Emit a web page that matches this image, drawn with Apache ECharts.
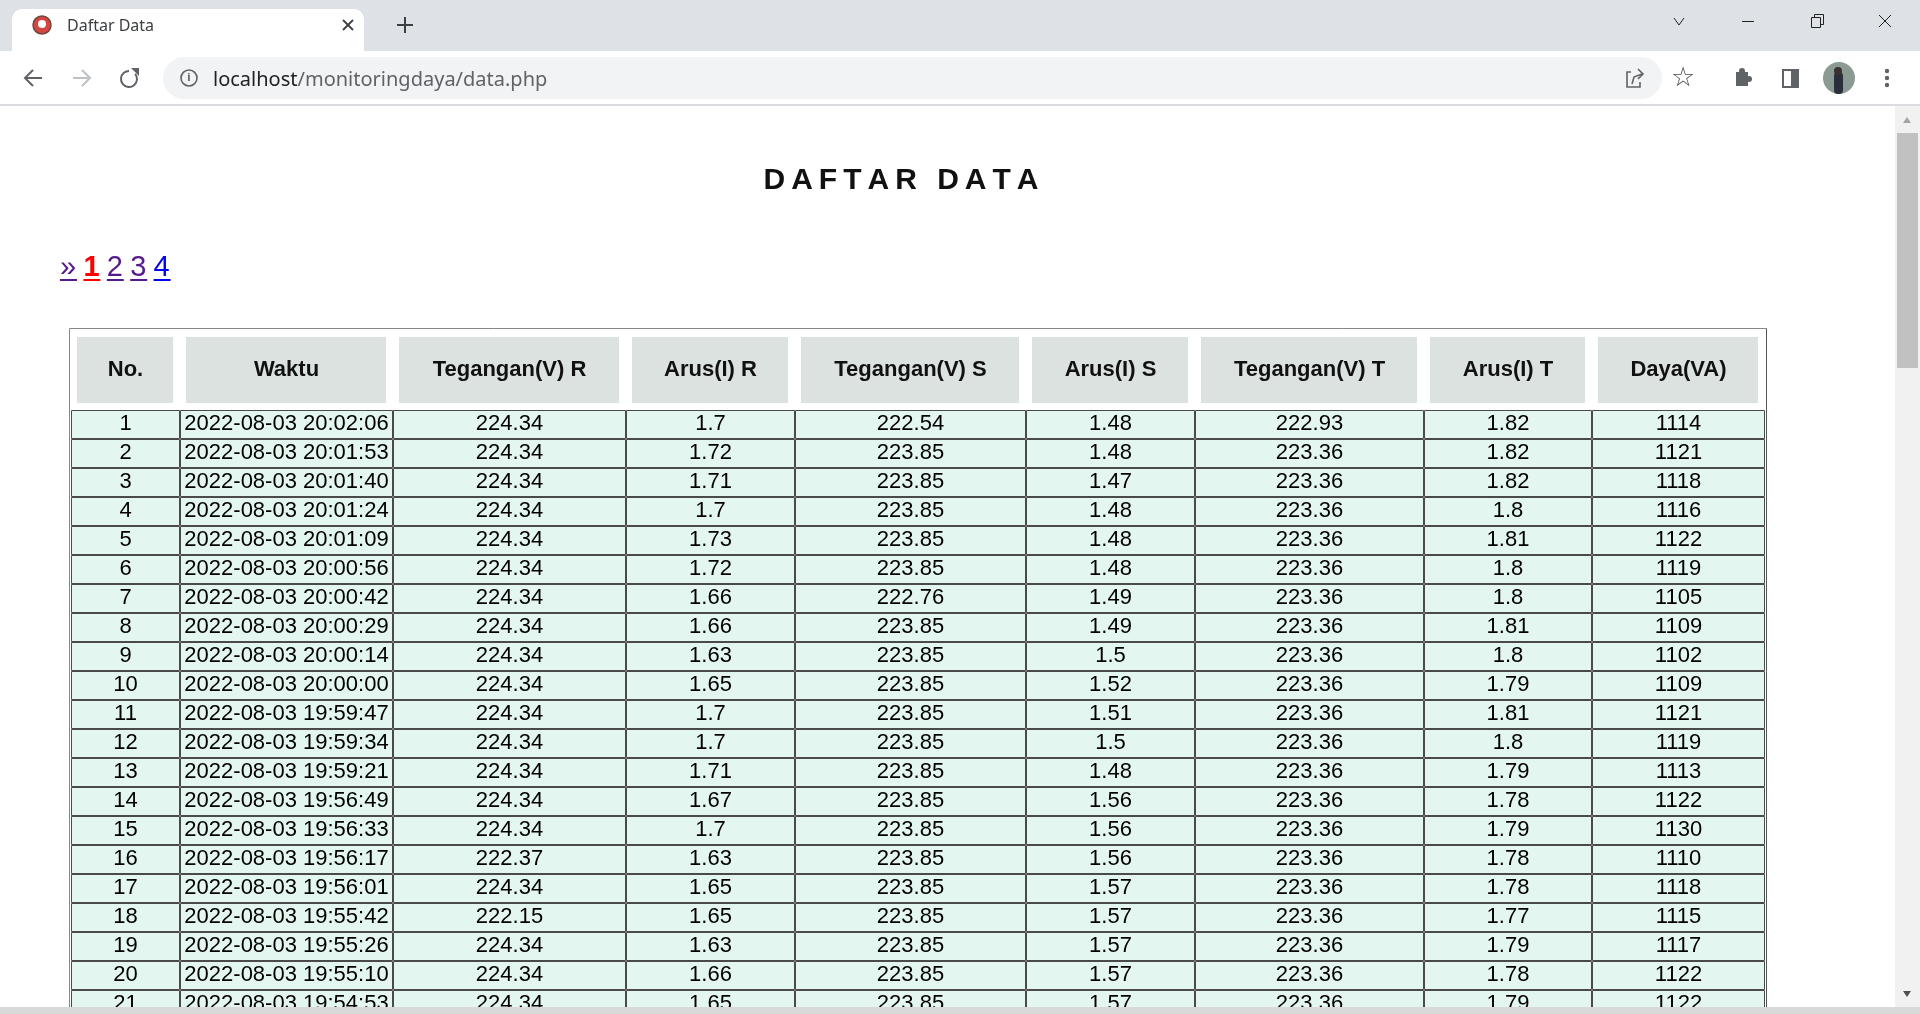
<!DOCTYPE html>
<html lang="id" style="height: 100%">
<head>
    <meta charset="UTF-8">
    <title>Daftar Data</title>
    <script src="https://cdn.jsdelivr.net/npm/echarts@6/dist/echarts.min.js"></script>
</head>
<body style="height: 100%; margin: 0">
<div id="main" style="width: 1920px; height: 1014px"></div>
<script>
    // isi tabel halaman 1
    var headers = ['No.', 'Waktu', 'Tegangan(V) R', 'Arus(I) R', 'Tegangan(V) S', 'Arus(I) S', 'Tegangan(V) T', 'Arus(I) T', 'Daya(VA)'];
    var nomor = [1, 2, 3, 4, 5, 6, 7, 8, 9, 10, 11, 12, 13, 14, 15, 16, 17, 18, 19, 20, 21];
    var waktu = ['2022-08-03 20:02:06', '2022-08-03 20:01:53', '2022-08-03 20:01:40', '2022-08-03 20:01:24',
        '2022-08-03 20:01:09', '2022-08-03 20:00:56', '2022-08-03 20:00:42', '2022-08-03 20:00:29',
        '2022-08-03 20:00:14', '2022-08-03 20:00:00', '2022-08-03 19:59:47', '2022-08-03 19:59:34',
        '2022-08-03 19:59:21', '2022-08-03 19:56:49', '2022-08-03 19:56:33', '2022-08-03 19:56:17',
        '2022-08-03 19:56:01', '2022-08-03 19:55:42', '2022-08-03 19:55:26', '2022-08-03 19:55:10',
        '2022-08-03 19:54:53'];
    var teganganR = [224.34, 224.34, 224.34, 224.34, 224.34, 224.34, 224.34, 224.34, 224.34, 224.34, 224.34,
        224.34, 224.34, 224.34, 224.34, 222.37, 224.34, 222.15, 224.34, 224.34, 224.34];
    var arusR = [1.7, 1.72, 1.71, 1.7, 1.73, 1.72, 1.66, 1.66, 1.63, 1.65, 1.7, 1.7, 1.71, 1.67, 1.7, 1.63,
        1.65, 1.65, 1.63, 1.66, 1.65];
    var teganganS = [222.54, 223.85, 223.85, 223.85, 223.85, 223.85, 222.76, 223.85, 223.85, 223.85, 223.85,
        223.85, 223.85, 223.85, 223.85, 223.85, 223.85, 223.85, 223.85, 223.85, 223.85];
    var arusS = [1.48, 1.48, 1.47, 1.48, 1.48, 1.48, 1.49, 1.49, 1.5, 1.52, 1.51, 1.5, 1.48, 1.56, 1.56, 1.56,
        1.57, 1.57, 1.57, 1.57, 1.57];
    var teganganT = [222.93, 223.36, 223.36, 223.36, 223.36, 223.36, 223.36, 223.36, 223.36, 223.36, 223.36,
        223.36, 223.36, 223.36, 223.36, 223.36, 223.36, 223.36, 223.36, 223.36, 223.36];
    var arusT = [1.82, 1.82, 1.82, 1.8, 1.81, 1.8, 1.8, 1.81, 1.8, 1.79, 1.81, 1.8, 1.79, 1.78, 1.79, 1.78,
        1.78, 1.77, 1.79, 1.78, 1.79];
    var daya = [1114, 1121, 1118, 1116, 1122, 1119, 1105, 1109, 1102, 1109, 1121, 1119, 1113, 1122, 1130, 1110,
        1118, 1115, 1117, 1122, 1122];
    var halaman = ['»', '1', '2', '3', '4'];

    // lebar kolom (layout)
    var colWidths = [109, 213, 233, 169, 231, 169, 229, 168, 173];
    var colEdges = [0];
    colWidths.forEach(function (w) { colEdges.push(colEdges[colEdges.length - 1] + w); });
    var totalW = colEdges[colEdges.length - 1];
    var rowH = 29;
    var fullRows = 20; // baris yang utuh terlihat, baris ke-21 terpotong layar

    var columns = [nomor, waktu, teganganR, arusR, teganganS, arusS, teganganT, arusT, daya];
    var bodyData = [];
    for (var r = 0; r < nomor.length; r++) {
        for (var c = 0; c < columns.length; c++) {
            bodyData.push([c, r, String(columns[c][r])]);
        }
    }
    var headData = headers.map(function (h, i) { return [i, 0, h]; });

    var FONT = '"Liberation Sans", Arial, sans-serif';
    var UI = '"Noto Sans", "Open Sans", sans-serif';
    var ICON = '#5f6368';

    function chrome() {
        var g = [];
        // tab strip
        g.push({type: 'rect', shape: {x: 0, y: 0, width: 1920, height: 51}, style: {fill: '#dee1e6'}});
        g.push({type: 'rect', shape: {x: 12, y: 9, width: 352, height: 44, r: [10, 10, 0, 0]}, style: {fill: '#fff'}});
        g.push({type: 'circle', shape: {cx: 42, cy: 25, r: 9}, style: {fill: '#d64541', stroke: '#6b4b3e', lineWidth: 1.5}});
        g.push({type: 'circle', shape: {cx: 42, cy: 24, r: 4}, style: {fill: '#fff'}});
        g.push({type: 'text', style: {text: 'Daftar Data', x: 67, y: 26, textVerticalAlign: 'middle', font: '16px ' + UI, fill: '#3c4043'}});
        g.push({type: 'line', shape: {x1: 343, y1: 20, x2: 353, y2: 30}, style: {stroke: '#3c4043', lineWidth: 1.8}});
        g.push({type: 'line', shape: {x1: 353, y1: 20, x2: 343, y2: 30}, style: {stroke: '#3c4043', lineWidth: 1.8}});
        g.push({type: 'line', shape: {x1: 397, y1: 25, x2: 413, y2: 25}, style: {stroke: '#3c4043', lineWidth: 2}});
        g.push({type: 'line', shape: {x1: 405, y1: 17, x2: 405, y2: 33}, style: {stroke: '#3c4043', lineWidth: 2}});
        // window controls
        g.push({type: 'polyline', shape: {points: [[1674, 18], [1679, 25], [1684, 18]]}, style: {stroke: '#222', lineWidth: 1, fill: null}});
        g.push({type: 'line', shape: {x1: 1742, y1: 21.5, x2: 1754, y2: 21.5}, style: {stroke: '#222', lineWidth: 1}});
        g.push({type: 'rect', shape: {x: 1811.5, y: 17.5, width: 9, height: 10}, style: {stroke: '#222', lineWidth: 1, fill: null}});
        g.push({type: 'polyline', shape: {points: [[1814.5, 17.5], [1814.5, 14.5], [1823.5, 14.5], [1823.5, 24.5], [1820.5, 24.5]]}, style: {stroke: '#222', lineWidth: 1, fill: null}});
        g.push({type: 'line', shape: {x1: 1879, y1: 15, x2: 1891, y2: 27}, style: {stroke: '#222', lineWidth: 1}});
        g.push({type: 'line', shape: {x1: 1891, y1: 15, x2: 1879, y2: 27}, style: {stroke: '#222', lineWidth: 1}});
        // toolbar
        g.push({type: 'rect', shape: {x: 0, y: 51, width: 1920, height: 53}, style: {fill: '#fff'}});
        g.push({type: 'rect', shape: {x: 0, y: 104, width: 1920, height: 2}, style: {fill: '#dadce0'}});
        g.push({type: 'polyline', shape: {points: [[33, 70], [25, 78], [33, 86]]}, style: {stroke: ICON, lineWidth: 2, fill: null}});
        g.push({type: 'line', shape: {x1: 25, y1: 78, x2: 42, y2: 78}, style: {stroke: ICON, lineWidth: 2}});
        g.push({type: 'polyline', shape: {points: [[82, 70], [90, 78], [82, 86]]}, style: {stroke: '#bdc1c6', lineWidth: 2, fill: null}});
        g.push({type: 'line', shape: {x1: 73, y1: 78, x2: 90, y2: 78}, style: {stroke: '#bdc1c6', lineWidth: 2}});
        g.push({type: 'arc', shape: {cx: 129, cy: 79, r: 8, startAngle: -Math.PI * 0.22, endAngle: -Math.PI * 0.5, clockwise: true}, style: {stroke: ICON, lineWidth: 2, fill: null}});
        g.push({type: 'polygon', shape: {points: [[131, 68], [139, 68], [139, 76]]}, style: {fill: ICON}});
        g.push({type: 'rect', shape: {x: 163, y: 57, width: 1499, height: 42, r: 21}, style: {fill: '#f1f3f4'}});
        g.push({type: 'circle', shape: {cx: 189, cy: 78, r: 8}, style: {stroke: ICON, lineWidth: 1.6, fill: null}});
        g.push({type: 'text', style: {text: 'i', x: 189, y: 78, textAlign: 'center', textVerticalAlign: 'middle', font: 'bold 11px ' + UI, fill: ICON}});
        g.push({type: 'text', style: {
            text: '{a|localhost}{b|/monitoringdaya/data.php}', x: 213, y: 80, textVerticalAlign: 'middle',
            font: '20px ' + UI,
            rich: {a: {fill: '#202124', font: '20px ' + UI}, b: {fill: '#5f6368', font: '20px ' + UI}}
        }});
        g.push({type: 'polyline', shape: {points: [[1640, 82], [1640, 87], [1627, 87], [1627, 72], [1631, 72]]}, style: {stroke: ICON, lineWidth: 1.6, fill: null}});
        g.push({type: 'polyline', shape: {points: [[1632, 84], [1634, 77], [1642, 74]]}, style: {stroke: ICON, lineWidth: 1.6, fill: null}});
        g.push({type: 'polyline', shape: {points: [[1638, 69], [1643, 74], [1638, 79]]}, style: {stroke: ICON, lineWidth: 1.6, fill: null}});
        g.push({type: 'text', style: {text: '☆', x: 1683, y: 79, textAlign: 'center', textVerticalAlign: 'middle', font: 'bold 27px "DejaVu Sans"', fill: '#4a4d52'}});
        g.push({type: 'rect', shape: {x: 1736, y: 72, width: 12, height: 14}, style: {fill: ICON}});
        g.push({type: 'circle', shape: {cx: 1742, cy: 71, r: 3}, style: {fill: ICON}});
        g.push({type: 'circle', shape: {cx: 1749, cy: 79, r: 3}, style: {fill: ICON}});
        g.push({type: 'rect', shape: {x: 1783, y: 70, width: 15, height: 17}, style: {stroke: ICON, lineWidth: 2, fill: null}});
        g.push({type: 'rect', shape: {x: 1791, y: 70, width: 7, height: 17}, style: {fill: ICON}});
        g.push({type: 'circle', shape: {cx: 1839, cy: 78, r: 16}, style: {fill: '#8c9a94'}});
        g.push({type: 'rect', shape: {x: 1834, y: 72, width: 9, height: 22, r: 4}, style: {fill: '#2b2f3a'}});
        g.push({type: 'circle', shape: {cx: 1838, cy: 71, r: 4}, style: {fill: '#3a3030'}});
        [71, 78, 85].forEach(function (y) {
            g.push({type: 'circle', shape: {cx: 1887, cy: y, r: 2.2}, style: {fill: ICON}});
        });
        // scrollbar
        g.push({type: 'rect', z: 100, shape: {x: 1895, y: 106, width: 25, height: 901}, style: {fill: '#f1f1f1'}});
        g.push({type: 'rect', z: 101, shape: {x: 1897, y: 133, width: 21, height: 235}, style: {fill: '#c1c1c1'}});
        g.push({type: 'polygon', z: 101, shape: {points: [[1903, 123], [1907, 117], [1911, 123]]}, style: {fill: '#a3a3a3'}});
        g.push({type: 'polygon', z: 101, shape: {points: [[1903, 991], [1907, 997], [1911, 991]]}, style: {fill: '#505050'}});
        g.push({type: 'rect', z: 102, shape: {x: 0, y: 1007, width: 1920, height: 7}, style: {fill: '#d9d9d9'}});
        // judul
        g.push({type: 'text', style: {
            text: 'D\u2009A\u2009F\u2009T\u2009A\u2009R\u2009 \u2009D\u2009A\u2009T\u2009A',
            x: 901, y: 181, textAlign: 'center', textVerticalAlign: 'middle',
            font: 'bold 30px ' + FONT, fill: '#111'
        }});
        // navigasi halaman
        var px = 60;
        var colors = ['#551a8b', '#ff0000', '#551a8b', '#551a8b', '#0000ee'];
        halaman.forEach(function (h, i) {
            var font = (h === '1' ? 'bold ' : '') + '29px ' + FONT;
            var cw = 16;
            g.push({type: 'text', style: {text: h, x: px, y: 282, textVerticalAlign: 'bottom', font: font, fill: colors[i]}});
            g.push({type: 'rect', shape: {x: px, y: 279, width: cw + 1, height: 2}, style: {fill: colors[i]}});
            px += cw + 7.4;
        });
        // bingkai tabel
        g.push({type: 'line', shape: {x1: 69.5, y1: 328.5, x2: 1766.5, y2: 328.5}, style: {stroke: '#888', lineWidth: 1}});
        g.push({type: 'line', shape: {x1: 69.5, y1: 328.5, x2: 69.5, y2: 1014}, style: {stroke: '#888', lineWidth: 1}});
        g.push({type: 'line', shape: {x1: 1766.5, y1: 328.5, x2: 1766.5, y2: 1014}, style: {stroke: '#555', lineWidth: 1}});
        return g;
    }

    var option = {
        backgroundColor: '#fff',
        animation: false,
        graphic: {elements: chrome()},
        grid: [
            {left: 71, top: 337, width: 1694, height: 66},
            {left: 71, top: 410, width: 1694, height: rowH * fullRows}
        ],
        xAxis: [
            {type: 'value', gridIndex: 0, min: 0, max: totalW, show: false},
            {type: 'value', gridIndex: 1, min: 0, max: totalW, show: false}
        ],
        yAxis: [
            {type: 'value', gridIndex: 0, min: 0, max: 1, inverse: true, show: false},
            {type: 'value', gridIndex: 1, min: 0, max: fullRows, inverse: true, show: false}
        ],
        series: [{
            type: 'custom',
            xAxisIndex: 0,
            yAxisIndex: 0,
            data: headData,
            renderItem: function (params, api) {
                var c = api.value(0);
                var p0 = api.coord([colEdges[c], 0]);
                var p1 = api.coord([colEdges[c + 1], 1]);
                return {
                    type: 'group',
                    children: [{
                        type: 'rect',
                        shape: {x: p0[0] + 6, y: p0[1], width: p1[0] - p0[0] - 13, height: p1[1] - p0[1]},
                        style: {fill: '#dbe2e0'}
                    }, {
                        type: 'text',
                        style: {
                            text: headers[c], x: (p0[0] + p1[0]) / 2, y: (p0[1] + p1[1]) / 2,
                            textAlign: 'center', textVerticalAlign: 'middle',
                            font: 'bold 22px ' + FONT, fill: '#111'
                        }
                    }]
                };
            }
        }, {
            type: 'custom',
            xAxisIndex: 1,
            yAxisIndex: 1,
            clip: false,
            data: bodyData,
            renderItem: function (params, api) {
                var c = api.value(0), r = api.value(1);
                var p0 = api.coord([colEdges[c], r]);
                var p1 = api.coord([colEdges[c + 1], r + 1]);
                var item = bodyData[params.dataIndex];
                return {
                    type: 'group',
                    children: [{
                        type: 'rect',
                        shape: {x: p0[0] + 0.5, y: p0[1] + 0.5, width: p1[0] - p0[0] - 1, height: p1[1] - p0[1] - 1},
                        style: {fill: '#e4f6f0', stroke: '#4a4a4a', lineWidth: 1}
                    }, {
                        type: 'text',
                        style: {
                            text: item[2], x: (p0[0] + p1[0]) / 2, y: (p0[1] + p1[1]) / 2 - 1,
                            textAlign: 'center', textVerticalAlign: 'middle',
                            font: '22px ' + FONT, fill: '#000'
                        }
                    }]
                };
            }
        }]
    };

    var myChart = echarts.init(document.getElementById('main'));
    myChart.setOption(option);
</script>
</body>
</html>
